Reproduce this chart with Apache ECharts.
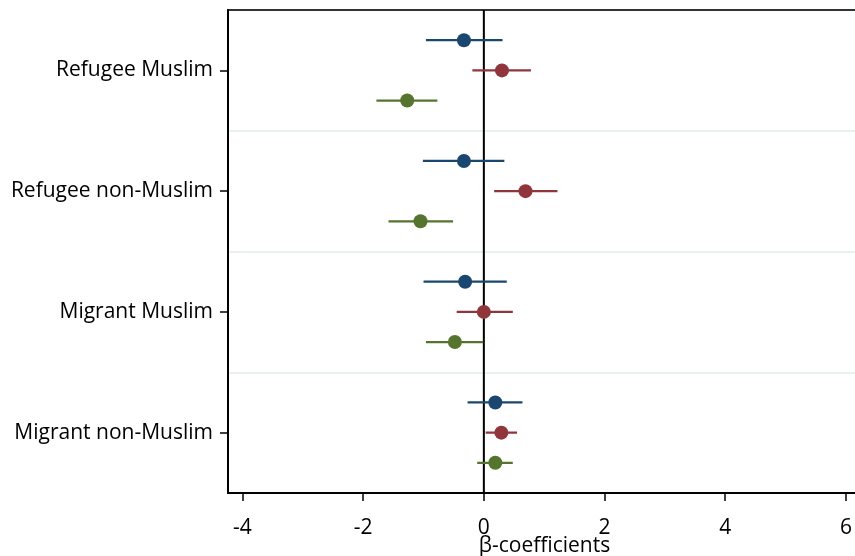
<!DOCTYPE html>
<html>
<head>
<meta charset="utf-8">
<script src="https://cdn.jsdelivr.net/npm/echarts@6/dist/echarts.min.js"></script>
<style>html,body{margin:0;padding:0;background:#fff;overflow:hidden}#c{width:855px;height:556px}</style>
</head>
<body>
<div id="c"></div>
<script>
const categories = ["Refugee Muslim", "Refugee non-Muslim", "Migrant Muslim", "Migrant non-Muslim"];
const xTicks = [-4, -2, 0, 2, 4, 6];

const blueEst = [-0.33, -0.33, -0.31, 0.19];
const blueLo  = [-0.96, -1.01, -1.00, -0.27];
const blueHi  = [0.31, 0.34, 0.38, 0.64];

const redEst = [0.30, 0.69, 0.00, 0.29];
const redLo  = [-0.19, 0.17, -0.45, 0.03];
const redHi  = [0.78, 1.22, 0.48, 0.55];

const greenEst = [-1.27, -1.05, -0.48, 0.19];
const greenLo  = [-1.78, -1.58, -0.96, -0.11];
const greenHi  = [-0.77, -0.51, -0.01, 0.48];

const groups = [
  {name: "Series 1", color: "#1a476f", est: blueEst, lo: blueLo, hi: blueHi, slot: -1},
  {name: "Series 2", color: "#90353b", est: redEst, lo: redLo, hi: redHi, slot: 0},
  {name: "Series 3", color: "#55752f", est: greenEst, lo: greenLo, hi: greenHi, slot: 1}
];

const FONT = "Open Sans";

function makeSeries(g) {
  return {
    type: 'custom',
    name: g.name,
    clip: false,
    z: 3,
    encode: {x: [1, 2, 3], y: 0},
    data: categories.map((c, i) => [i, g.est[i], g.lo[i], g.hi[i]]),
    renderItem: function (params, api) {
      const ci = api.value(0);
      const band = api.size([0, 1])[1];
      const off = band * 0.25 * g.slot;
      const p = api.coord([api.value(1), ci]);
      const l = api.coord([api.value(2), ci]);
      const h = api.coord([api.value(3), ci]);
      const y = p[1] + off;
      return {
        type: 'group',
        children: [
          {type: 'line', shape: {x1: l[0], y1: y, x2: h[0], y2: y},
           style: {stroke: g.color, lineWidth: 2.2}},
          {type: 'circle', shape: {cx: p[0], cy: y, r: 7},
           style: {fill: g.color}}
        ]
      };
    }
  };
}

const zeroSeries = {
  type: 'custom',
  name: 'zero',
  clip: false,
  z: 2,
  encode: {x: 0},
  data: [[0]],
  renderItem: function (params, api) {
    const cs = params.coordSys;
    const x = api.coord([api.value(0), 0])[0];
    return {type: 'line', shape: {x1: x, y1: cs.y, x2: x, y2: cs.y + cs.height},
            style: {stroke: '#000', lineWidth: 2}};
  }
};

const chart = echarts.init(document.getElementById('c'), null, {renderer: 'canvas', width: 855, height: 556});
chart.setOption({
  animation: false,
  backgroundColor: '#fff',
  grid: {left: 228, top: 10, width: 633, height: 483, show: true, borderColor: '#333', borderWidth: 2,
         containLabel: false, outerBoundsMode: 'none'},
  xAxis: {
    type: 'value', min: -4.24, max: 6.25,
    name: 'β-coefficients', nameLocation: 'middle', nameGap: 43, nameMoveOverlap: false,
    nameTextStyle: {fontFamily: FONT, fontSize: 21, color: '#000', verticalAlign: 'top'},
    axisLine: {show: true, onZero: false, lineStyle: {color: '#000', width: 2}},
    axisTick: {show: true, length: 8, lineStyle: {color: '#000', width: 1.5}, customValues: xTicks},
    axisLabel: {fontFamily: FONT, fontSize: 21, color: '#000', margin: 25, customValues: xTicks},
    splitLine: {show: false}
  },
  yAxis: {
    type: 'category', data: categories, inverse: true,
    axisLine: {show: true, onZero: false, lineStyle: {color: '#000', width: 2}},
    axisTick: {show: true, alignWithLabel: true, length: 8, lineStyle: {color: '#000', width: 1.5}},
    axisLabel: {fontFamily: FONT, fontSize: 21, color: '#000', margin: 15},
    splitLine: {show: true, lineStyle: {color: ['#333', '#e8f0f2', '#e8f0f2', '#e8f0f2', '#000'], width: 2}}
  },
  series: [zeroSeries].concat(groups.map(makeSeries))
});
</script>
</body>
</html>
